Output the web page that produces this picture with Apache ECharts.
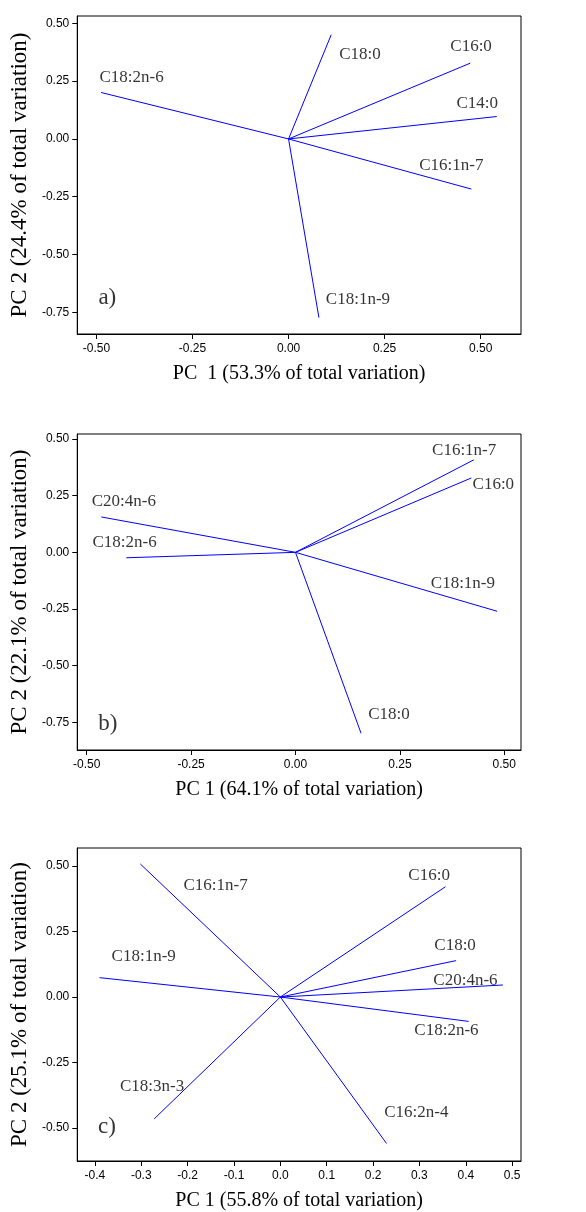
<!DOCTYPE html>
<html>
<head>
<meta charset="utf-8">
<script src="https://cdn.jsdelivr.net/npm/echarts@6/dist/echarts.min.js"></script>
<style>
  html, body { margin: 0; padding: 0; background: #fff; }
  #chart { width: 586px; height: 1212px; }
</style>
</head>
<body>
<div id="chart"></div>
<script>
// loadings (PC1, PC2) for each panel
const varsA = ['C18:0', 'C16:0', 'C14:0', 'C16:1n-7', 'C18:2n-6', 'C18:1n-9'];
const pc1A = [0.111, 0.473, 0.542, 0.476, -0.488, 0.079];
const pc2A = [0.451, 0.328, 0.097, -0.217, 0.201, -0.773];
const labXA = [0.132, 0.421, 0.437, 0.340, -0.492, 0.097];
const labYA = [0.366, 0.399, 0.153, -0.117, 0.264, -0.693];

const varsB = ['C16:1n-7', 'C16:0', 'C20:4n-6', 'C18:2n-6', 'C18:1n-9', 'C18:0'];
const pc1B = [0.427, 0.421, -0.465, -0.405, 0.483, 0.157];
const pc2B = [0.408, 0.328, 0.156, -0.024, -0.260, -0.798];
const labXB = [0.327, 0.424, -0.488, -0.486, 0.324, 0.174];
const labYB = [0.451, 0.301, 0.223, 0.045, -0.137, -0.717];

const varsC = ['C16:1n-7', 'C16:0', 'C18:0', 'C20:4n-6', 'C18:1n-9', 'C18:2n-6', 'C18:3n-3', 'C16:2n-4'];
const pc1C = [-0.302, 0.356, 0.379, 0.480, -0.390, 0.406, -0.272, 0.229];
const pc2C = [0.508, 0.421, 0.139, 0.046, 0.074, -0.093, -0.465, -0.559];
const labXC = [-0.209, 0.276, 0.332, 0.330, -0.364, 0.289, -0.346, 0.224];
const labYC = [0.427, 0.462, 0.197, 0.063, 0.153, -0.129, -0.343, -0.440];

const panelTags = ['a)', 'b)', 'c)'];
const tagX = [-0.495, -0.472, -0.393];
const tagY = [-0.686, -0.757, -0.496];

const xTitles = ['PC  1 (53.3% of total variation)', 'PC 1 (64.1% of total variation)', 'PC 1 (55.8% of total variation)'];
const yTitles = ['PC 2 (24.4% of total variation)', 'PC 2 (22.1% of total variation)', 'PC 2 (25.1% of total variation)'];

const xTicksA = [-0.5, -0.25, 0, 0.25, 0.5];
const yTicksA = [-0.75, -0.5, -0.25, 0, 0.25, 0.5];
const xTicksB = [-0.5, -0.25, 0, 0.25, 0.5];
const yTicksB = [-0.75, -0.5, -0.25, 0, 0.25, 0.5];
const xTicksC = [-0.4, -0.3, -0.2, -0.1, 0, 0.1, 0.2, 0.3, 0.4, 0.5];
const yTicksC = [-0.5, -0.25, 0, 0.25, 0.5];

const panels = [
    {vars: varsA, pc1: pc1A, pc2: pc2A, lx: labXA, ly: labYA, xt: xTicksA, yt: yTicksA, xd: 2,
     xr: [-0.550, 0.605], yr: [-0.844, 0.532], top: 16, height: 318},
    {vars: varsB, pc1: pc1B, pc2: pc2B, lx: labXB, ly: labYB, xt: xTicksB, yt: yTicksB, xd: 2,
     xr: [-0.5225, 0.540], yr: [-0.872, 0.522], top: 434, height: 316},
    {vars: varsC, pc1: pc1C, pc2: pc2C, lx: labXC, ly: labYC, xt: xTicksC, yt: yTicksC, xd: 1,
     xr: [-0.438, 0.519], yr: [-0.626, 0.569], top: 848, height: 317}
];

const serif = '"Liberation Serif", "DejaVu Serif", serif';
const sans = '"Liberation Sans", Arial, sans-serif';

let grid = [], xAxis = [], yAxis = [], series = [];

panels.forEach((p, k) => {
    grid.push({
        left: 77, width: 444, top: p.top, height: p.height,
        show: true, borderColor: '#000', borderWidth: 1, backgroundColor: '#fff'
    });
    xAxis.push({
        type: 'value', gridIndex: k, min: p.xr[0], max: p.xr[1],
        axisLine: {onZero: false, lineStyle: {color: '#000', width: 1}},
        axisTick: {show: true, length: 5, customValues: p.xt, lineStyle: {color: '#000'}},
        axisLabel: {
            customValues: p.xt, margin: 9, color: '#000', fontSize: 12, fontFamily: sans,
            formatter: v => v.toFixed(p.xd)
        },
        splitLine: {show: false},
        name: xTitles[k], nameLocation: 'middle', nameGap: 30,
        nameTextStyle: {fontFamily: serif, fontSize: 20, color: '#000'}
    });
    yAxis.push({
        type: 'value', gridIndex: k, min: p.yr[0], max: p.yr[1],
        axisLine: {onZero: false, lineStyle: {color: '#000', width: 1}},
        axisTick: {show: true, length: 5, customValues: p.yt, lineStyle: {color: '#000'}},
        axisLabel: {
            customValues: p.yt, margin: 8, color: '#000', fontSize: 12, fontFamily: sans,
            formatter: v => v.toFixed(2)
        },
        splitLine: {show: false},
        name: yTitles[k], nameLocation: 'middle', nameGap: 44, nameRotate: 90,
        nameTextStyle: {fontFamily: serif, fontSize: 23, color: '#000'}
    });

    // one line from origin per variable
    for (let i = 0; i < p.vars.length; i++) {
        series.push({
            type: 'line', xAxisIndex: k, yAxisIndex: k,
            data: [[0, 0], [p.pc1[i], p.pc2[i]]],
            symbol: 'none', silent: true,
            lineStyle: {color: '#0000ff', width: 1}
        });
    }

    // variable names
    series.push({
        type: 'scatter', xAxisIndex: k, yAxisIndex: k, symbolSize: 0,
        data: p.vars.map((v, i) => ({value: [p.lx[i], p.ly[i]], name: v})),
        label: {
            show: true, position: [0, 0], align: 'left', verticalAlign: 'middle',
            formatter: d => d.name, fontFamily: serif, fontSize: 17, color: '#000'
        }
    });

    // panel tag
    series.push({
        type: 'scatter', xAxisIndex: k, yAxisIndex: k, symbolSize: 0,
        data: [{value: [tagX[k], tagY[k]], name: panelTags[k]}],
        label: {
            show: true, position: [0, 0], align: 'left', verticalAlign: 'middle',
            formatter: d => d.name, fontFamily: serif, fontSize: 23, color: '#000'
        }
    });
});

let myChart = echarts.init(document.getElementById('chart'), null, {renderer: 'canvas'});
myChart.setOption({
    animation: false,
    backgroundColor: '#fff',
    grid: grid,
    xAxis: xAxis,
    yAxis: yAxis,
    series: series
});
</script>
</body>
</html>
